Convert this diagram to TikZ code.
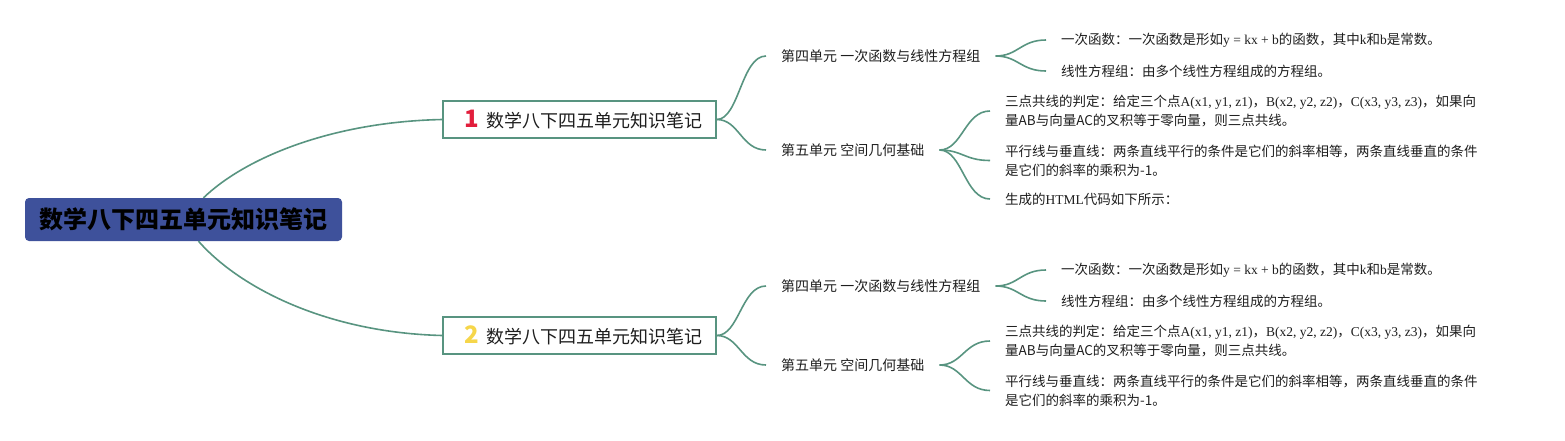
\documentclass[tikz,border=0pt]{standalone}
\usepackage{fontspec}
\setmainfont{Noto Sans CJK SC}
\newfontfamily\latf{Liberation Serif}
\newcommand\lt[1]{{\latf #1}}
\usetikzlibrary{calc}
\definecolor{linec}{RGB}{88,148,128}
\definecolor{rootc}{RGB}{62,81,155}
\definecolor{onec}{RGB}{226,30,60}
\definecolor{twoc}{RGB}{246,214,74}
\definecolor{txt}{RGB}{30,30,30}
\newcommand\fan[2]{\draw[conn] let \p1=(#1), \p2=(#2) in (\p1) .. controls ({\x1+0.45*(\x2-\x1)},\y1) and ({\x1+0.5*(\x2-\x1)},\y2) .. (\p2);}
\newcommand\rootlink[2]{\draw[conn] let \p1=(#1), \p2=(#2) in (\p1) .. controls ({\x1+0.17*(\x2-\x1)},{\y1+0.5*(\y2-\y1)}) and ({\x1+0.53*(\x2-\x1)},{\y1+0.97*(\y2-\y1)}) .. (\p2);}
\begin{document}
\begin{tikzpicture}[x=1pt,y=-1pt,
 conn/.style={draw=linec,line width=1.6pt},
 rootbox/.style={fill=rootc, rounded corners=4pt, minimum width=317pt, minimum height=43pt, font=\fontsize{24}{24}\selectfont\bfseries, text=black, inner sep=0pt},
 topic/.style={draw=linec, line width=1.6pt, fill=white, minimum width=273pt, minimum height=37pt, font=\fontsize{18}{18}\selectfont, text=txt, inner sep=0pt},
 sub/.style={anchor=west, inner xsep=15pt, inner ysep=2pt, text=txt, font=\fontsize{14}{14}\selectfont},
 leaf/.style={anchor=west, inner xsep=15pt, inner ysep=2pt, text=txt, align=left, font=\fontsize{13.5}{19}\selectfont},
]
\useasboundingbox (0,0) rectangle (1565,440);

\node[rootbox] (root) at (183.5,219.5) {数学八下四五单元知识笔记};

\node[topic] (b1) at (579.5,119.5) {\hspace{8pt}\textcolor{onec}{\fontsize{24}{24}\selectfont\bfseries 1}\hspace{8pt}数学八下四五单元知识笔记};
\node[topic] (b2) at (579.5,335.5) {\hspace{8pt}\textcolor{twoc}{\fontsize{24}{24}\selectfont\bfseries 2}\hspace{8pt}数学八下四五单元知识笔记};

\node[sub] (a1) at (766,56) {第四单元 一次函数与线性方程组};
\node[sub] (a2) at (766,150) {第五单元 空间几何基础};
\node[sub] (a3) at (766,286) {第四单元 一次函数与线性方程组};
\node[sub] (a4) at (766,365) {第五单元 空间几何基础};

\node[leaf] (c1) at (1046,40) {一次函数：一次函数是形如\lt{y = kx + b}的函数，其中\lt{k}和\lt{b}是常数。};
\node[leaf] (c2) at (1046,71) {线性方程组：由多个线性方程组成的方程组。};
\node[leaf] (c3) at (990,111) {三点共线的判定：给定三个点\lt{A(x1, y1, z1)}，\lt{B(x2, y2, z2)}，\lt{C(x3, y3, z3)}，如果向\\量AB与向量AC的叉积等于零向量，则三点共线。};
\node[leaf] (c4) at (990,160.5) {平行线与垂直线：两条直线平行的条件是它们的斜率相等，两条直线垂直的条件\\是它们的斜率的乘积为-1。};
\node[leaf] (c5) at (990,199) {生成的\lt{HTML}代码如下所示：};

\node[leaf] (c6) at (1046,270) {一次函数：一次函数是形如\lt{y = kx + b}的函数，其中\lt{k}和\lt{b}是常数。};
\node[leaf] (c7) at (1046,301) {线性方程组：由多个线性方程组成的方程组。};
\node[leaf] (c8) at (990,341) {三点共线的判定：给定三个点\lt{A(x1, y1, z1)}，\lt{B(x2, y2, z2)}，\lt{C(x3, y3, z3)}，如果向\\量AB与向量AC的叉积等于零向量，则三点共线。};
\node[leaf] (c9) at (990,390.5) {平行线与垂直线：两条直线平行的条件是它们的斜率相等，两条直线垂直的条件\\是它们的斜率的乘积为-1。};

\rootlink{[xshift=20pt]root.north}{b1.west}
\rootlink{[xshift=15pt]root.south}{b2.west}

\fan{b1.east}{a1.west}
\fan{b1.east}{a2.west}
\fan{b2.east}{a3.west}
\fan{b2.east}{a4.west}

\fan{a1.east}{c1.west}
\fan{a1.east}{c2.west}
\fan{a2.east}{c3.west}
\fan{a2.east}{c4.west}
\fan{a2.east}{c5.west}

\fan{a3.east}{c6.west}
\fan{a3.east}{c7.west}
\fan{a4.east}{c8.west}
\fan{a4.east}{c9.west}
\end{tikzpicture}
\end{document}
